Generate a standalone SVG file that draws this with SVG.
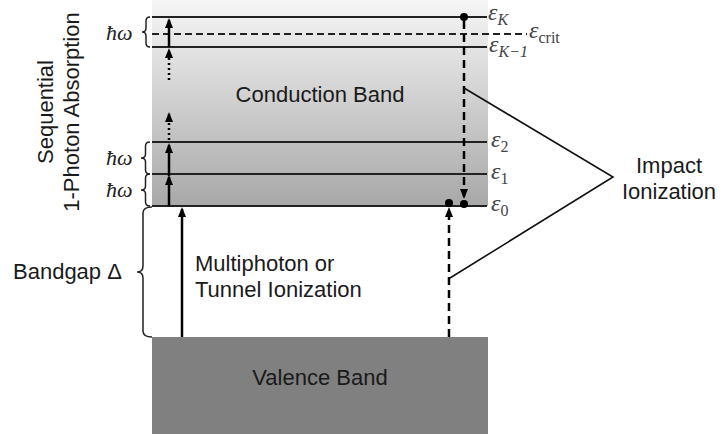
<svg xmlns="http://www.w3.org/2000/svg" width="724" height="434" viewBox="0 0 724 434">
<defs>
<linearGradient id="cb" x1="0" y1="0" x2="0" y2="1">
<stop offset="0" stop-color="#f6f6f6"/>
<stop offset="1" stop-color="#a8a8a8"/>
</linearGradient>
<marker id="ah" viewBox="0 0 10 8" refX="8" refY="4" markerWidth="10" markerHeight="8" markerUnits="userSpaceOnUse" orient="auto">
<path d="M0,0 L10,4 L0,8 z" fill="#000"/>
</marker>
</defs>
<style>
.lvl{stroke:#222;stroke-width:2;fill:none}
.crit{stroke:#222;stroke-width:2;stroke-dasharray:7 4;fill:none}
.arr{stroke:#000;stroke-width:2.5;fill:none}
.dot{stroke:#000;stroke-width:2.5;stroke-dasharray:2 3;fill:none}
.dash{stroke:#000;stroke-width:2.5;stroke-dasharray:8 5;fill:none}
.brace{stroke:#222;stroke-width:1.5;fill:none}
.thin{stroke:#111;stroke-width:1.6;fill:none}
.sans{font-family:"Liberation Sans",Arial,sans-serif;font-size:22px;fill:#1a1a1a}
.math{font-family:"Liberation Serif","DejaVu Serif",serif;font-style:italic;font-size:24px;fill:#444}
.sub{font-size:16px}
.rm{font-style:normal}
.hw{font-family:"Liberation Serif","DejaVu Serif",serif;font-style:italic;font-size:22px;fill:#222}
</style>

<g id="conduction-band">
<rect x="152" y="0" width="336" height="206" fill="url(#cb)"/>
<text class="sans" x="320" y="102" text-anchor="middle">Conduction Band</text>
</g>

<g id="valence-band">
<rect x="152" y="337" width="336" height="97" fill="#808080"/>
<text class="sans" x="320" y="385" text-anchor="middle" fill="#111">Valence Band</text>
</g>

<g id="levels">
<line class="lvl" x1="152" y1="17" x2="487" y2="17"/>
<line class="crit" x1="152" y1="34" x2="527" y2="34"/>
<line class="lvl" x1="152" y1="47" x2="487" y2="47"/>
<line class="lvl" x1="152" y1="142" x2="487" y2="142"/>
<line class="lvl" x1="152" y1="174" x2="487" y2="174"/>
<line class="lvl" x1="152" y1="206" x2="487" y2="206"/>
</g>

<g id="level-labels">
<text class="math" x="488" y="20">ε<tspan class="sub" dy="5">K</tspan></text>
<text class="math" x="529" y="38">ε<tspan class="sub rm" dy="5">crit</tspan></text>
<text class="math" x="489" y="52">ε<tspan class="sub" dy="5">K−1</tspan></text>
<text class="math" x="491" y="147">ε<tspan class="sub rm" dy="5">2</tspan></text>
<text class="math" x="491" y="179">ε<tspan class="sub rm" dy="5">1</tspan></text>
<text class="math" x="491" y="211">ε<tspan class="sub rm" dy="5">0</tspan></text>
</g>

<g id="photon-labels">
<path class="brace" d="M150,17 Q146,17 146,21 L146,28 Q146,32 142,32 Q146,32 146,36 L146,43 Q146,47 150,47"/>
<path class="brace" d="M150,142 Q145.5,142 145.5,146 L145.5,154 Q145.5,158 141,158 Q145.5,158 145.5,162 L145.5,170 Q145.5,174 150,174"/>
<path class="brace" d="M150,174 Q145.5,174 145.5,178 L145.5,186 Q145.5,190 141,190 Q145.5,190 145.5,194 L145.5,202 Q145.5,206 150,206"/>
<text class="hw" x="106" y="40">ħω</text>
<text class="hw" x="106" y="165">ħω</text>
<text class="hw" x="106" y="197">ħω</text>
</g>

<g id="bandgap">
<path class="brace" d="M152,207 Q143,207 143,213 L143,266 Q143,272 137,272 Q143,272 143,278 L143,331 Q143,337 152,337"/>
<text class="sans" x="13" y="279">Bandgap Δ</text>
</g>

<g id="sequential-label">
<text class="sans" transform="translate(53,112) rotate(-90)" text-anchor="middle">Sequential</text>
<text class="sans" transform="translate(79,112) rotate(-90)" text-anchor="middle">1-Photon Absorption</text>
</g>

<g id="multiphoton-label">
<text class="sans" x="195" y="271">Multiphoton or</text>
<text class="sans" x="195" y="297">Tunnel Ionization</text>
</g>

<g id="impact-label">
<text class="sans" x="669" y="173" text-anchor="middle">Impact</text>
<text class="sans" x="669" y="199" text-anchor="middle">Ionization</text>
</g>

<g id="connectors">
<line class="arr" x1="169" y1="206" x2="169" y2="177" marker-end="url(#ah)"/>
<line class="arr" x1="169" y1="176" x2="169" y2="145" marker-end="url(#ah)"/>
<line class="dot" x1="169" y1="140" x2="169" y2="114" marker-end="url(#ah)"/>
<line class="dot" x1="169" y1="80" x2="169" y2="50" marker-end="url(#ah)"/>
<line class="arr" x1="169" y1="47" x2="169" y2="20" marker-end="url(#ah)"/>
<line class="arr" x1="182" y1="337" x2="182" y2="209" marker-end="url(#ah)"/>
<line class="dash" x1="464" y1="21" x2="464" y2="197" marker-end="url(#ah)"/>
<circle cx="464" cy="17" r="4" fill="#000"/>
<circle cx="464" cy="204" r="4" fill="#000"/>
<line class="dash" x1="449" y1="337" x2="449" y2="209" marker-end="url(#ah)"/>
<circle cx="449" cy="203" r="4" fill="#000"/>
<polyline class="thin" points="464,88 613,177 450,278"/>
</g>
</svg>
